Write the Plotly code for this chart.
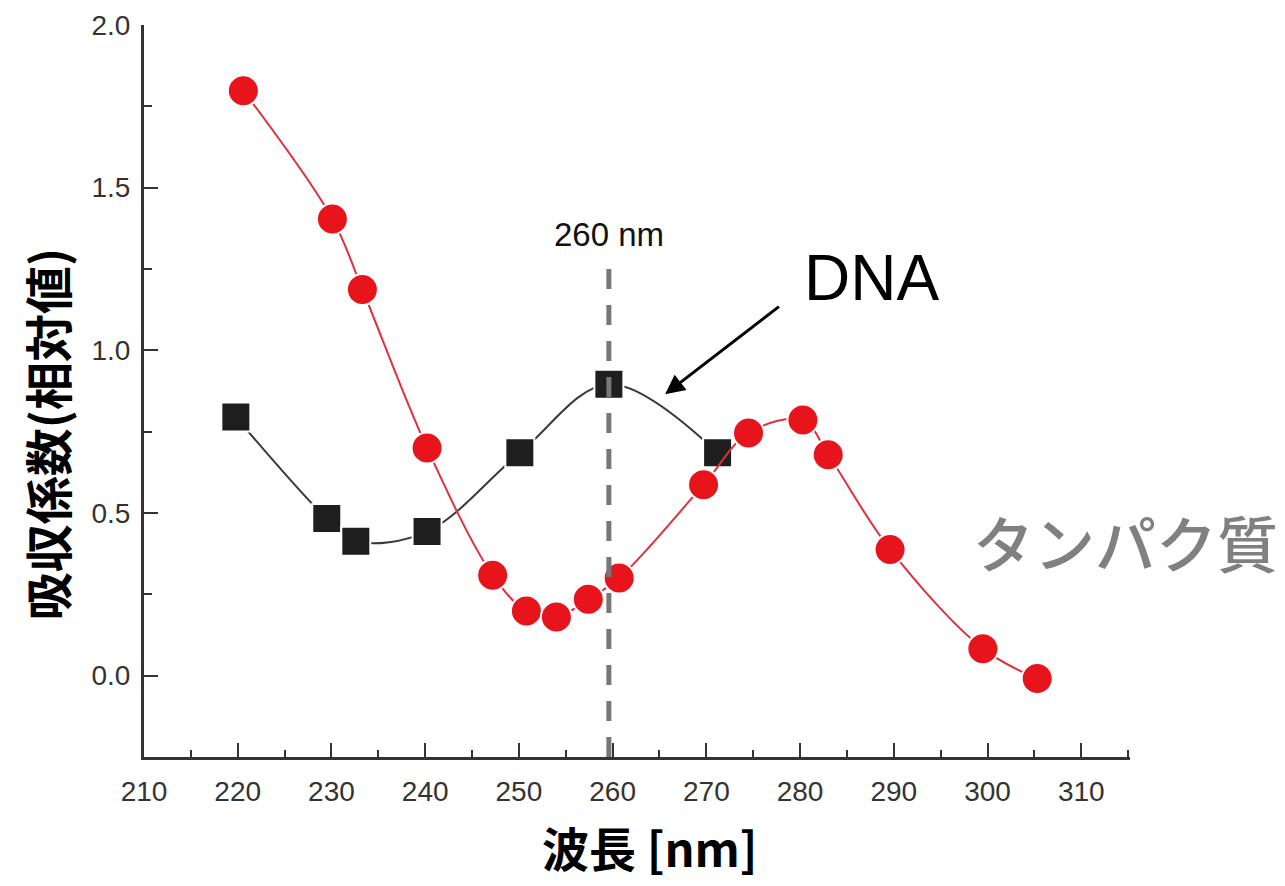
import plotly.graph_objects as go

# Data
dna_wavelength = [219.8, 229.5, 232.6, 240.2, 250.1, 259.6, 271.2]
dna_absorbance = [0.795, 0.483, 0.413, 0.443, 0.685, 0.896, 0.685]

protein_wavelength = [220.6, 230.1, 233.3, 240.2, 247.2, 250.8, 254.0, 257.4,
                      260.7, 269.7, 274.5, 280.3, 283.0, 289.6, 299.5, 305.3]
protein_absorbance = [1.798, 1.404, 1.187, 0.700, 0.309, 0.199, 0.180, 0.235,
                      0.300, 0.587, 0.746, 0.786, 0.679, 0.388, 0.083, -0.009]

marker_wavelength = 259.6
x_range = [210, 315.2]
y_range = [-0.25, 2.0]

x_title = "波長 [nm]"
y_title = "吸収係数(相対値)"
label_260 = "260 nm"
label_dna = "DNA"
label_protein = "タンパク質"

fig = go.Figure()

fig.add_trace(go.Scatter(
    x=dna_wavelength, y=dna_absorbance, mode="lines+markers", name="DNA",
    line=dict(color="#3a3a3a", width=2, shape="spline", smoothing=1),
    marker=dict(symbol="square", size=29, color="#1e1e1e",
                line=dict(color="white", width=2)),
    cliponaxis=False,
))
fig.add_trace(go.Scatter(
    x=protein_wavelength, y=protein_absorbance, mode="lines+markers", name="タンパク質",
    line=dict(color="#e0303c", width=2, shape="spline", smoothing=1),
    marker=dict(symbol="circle", size=31, color="#e8141c",
                line=dict(color="white", width=2)),
    cliponaxis=False,
))

fig.add_shape(type="line", xref="x", yref="y", layer="above",
              x0=marker_wavelength, x1=marker_wavelength, y0=y_range[0], y1=1.28,
              line=dict(color="#777777", width=5, dash="20px,16px"))

fig.add_annotation(x=marker_wavelength, y=1.355, xref="x", yref="y", text=label_260,
                   showarrow=False, font=dict(family="Liberation Sans", size=33, color="#111111"))
fig.add_annotation(x=287.6, y=1.223, xref="x", yref="y", text=label_dna,
                   showarrow=False, font=dict(family="Liberation Sans", size=64, color="#000000"))
fig.add_annotation(x=265.6, y=0.865, xref="x", yref="y", ax=277.9, ay=1.138,
                   axref="x", ayref="y", text="", showarrow=True,
                   arrowhead=2, arrowsize=1.3, arrowwidth=3, arrowcolor="#000000")
fig.add_annotation(x=314.7, y=0.413, xref="x", yref="y", text=label_protein,
                   showarrow=False,
                   font=dict(family="Noto Sans CJK JP", size=61, color="#808080", weight=500))

# Axis titles
fig.add_annotation(x=0.513, y=-0.1216, xref="paper", yref="paper", text=x_title,
                   showarrow=False, xanchor="center", yanchor="middle", borderpad=0,
                   font=dict(family="Noto Sans CJK JP", size=47, color="#000000", weight="bold"))
fig.add_annotation(x=-0.100, y=0.4416, xref="paper", yref="paper", text=y_title,
                   showarrow=False, xanchor="center", yanchor="middle", textangle=-90,
                   borderpad=0,
                   font=dict(family="Noto Sans CJK JP", size=48, color="#000000", weight="bold"))

tick_font = dict(family="Liberation Sans", size=28, color="#333333")

fig.update_xaxes(
    range=x_range, tick0=210, dtick=10, showline=True, linecolor="#333333", linewidth=3,
    ticks="inside", ticklen=14, tickwidth=2, tickcolor="#333333",
    minor=dict(dtick=5, ticks="inside", ticklen=7, tickwidth=2, tickcolor="#333333"),
    showgrid=False, zeroline=False, tickfont=tick_font, ticklabelstandoff=7,
    ticklabeloverflow="allow", automargin=False,
)
fig.update_yaxes(
    range=y_range, tick0=0, dtick=0.5, tickformat=".1f", showline=True,
    linecolor="#333333", linewidth=3,
    ticks="inside", ticklen=14, tickwidth=2, tickcolor="#333333",
    minor=dict(dtick=0.25, ticks="inside", ticklen=8, tickwidth=2, tickcolor="#333333"),
    showgrid=False, zeroline=False, tickfont=tick_font, ticklabelstandoff=5,
    ticklabeloverflow="allow", automargin=False,
)

# The page adds an 8px body margin, so the figure is offset by 8px
fig.update_layout(
    width=1277, height=878, showlegend=False,
    paper_bgcolor="white", plot_bgcolor="white",
    margin=dict(l=136, r=155, t=17, b=129),
)

fig.write_html("out.html")
